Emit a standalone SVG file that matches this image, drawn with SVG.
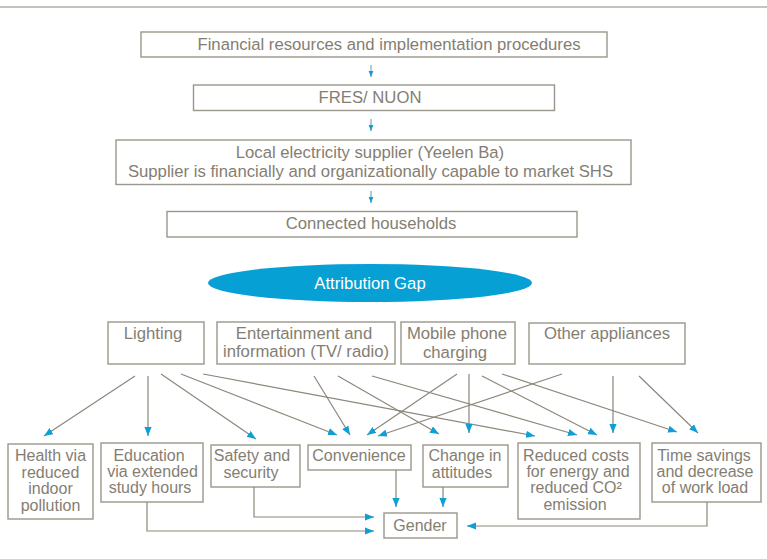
<svg xmlns="http://www.w3.org/2000/svg" width="767" height="559" viewBox="0 0 767 559">
<defs>
<style>
.box{fill:#fff;stroke:#9b968b;stroke-width:1.4}
.t{font-family:"Liberation Sans",Arial,sans-serif;fill:#847e72;text-anchor:middle}
.t1{font-size:16.7px}
.t2{font-size:16px}
.w{fill:#fff}
.c{fill:none;stroke:#8c877b;stroke-width:1.2}
.s{fill:none;stroke:#7fa6bd;stroke-width:1.2}
</style>
<marker id="ah" viewBox="0 0 10 8" refX="10" refY="4" markerWidth="9" markerHeight="7.4" markerUnits="userSpaceOnUse" orient="auto">
<path d="M0,0 L10,4 L0,8 z" fill="#0c9fd8"/>
</marker>
<marker id="ahs" viewBox="0 0 10 8" refX="10" refY="4" markerWidth="6.5" markerHeight="5.5" markerUnits="userSpaceOnUse" orient="auto">
<path d="M0,0 L10,4 L0,8 z" fill="#0c9fd8"/>
</marker>
</defs>
<rect width="767" height="559" fill="#fff"/>
<line x1="0" y1="7" x2="767" y2="7" stroke="#b3afa7" stroke-width="1.5"/>

<g id="n-financial"><rect class="box" x="141" y="32" width="466" height="25"/><text class="t t1" x="389" y="50">Financial resources and implementation procedures</text></g>
<g id="n-fres"><rect class="box" x="193.5" y="85" width="361" height="25.5"/><text class="t t1" x="370" y="103">FRES/ NUON</text></g>
<g id="n-local"><rect class="box" x="116" y="140" width="515" height="44.5"/><text class="t t1" x="370" y="158">Local electricity supplier (Yeelen Ba)</text><text class="t t1" x="370.5" y="177">Supplier is financially and organizationally capable to market SHS</text></g>
<g id="n-connected"><rect class="box" x="167" y="211.5" width="410" height="25.5"/><text class="t t1" x="371" y="229">Connected households</text></g>
<g id="n-gap"><ellipse cx="370" cy="283" rx="162" ry="19" fill="#06a0d5"/><text class="t t1 w" x="370" y="289">Attribution Gap</text></g>

<g id="n-lighting"><rect class="box" x="108" y="322" width="96" height="42"/><text class="t t1" x="153" y="339">Lighting</text></g>
<g id="n-entertainment"><rect class="box" x="217" y="322" width="178" height="42"/><text class="t t1" x="304" y="338.5">Entertainment and</text><text class="t t1" x="306" y="357">information (TV/ radio)</text></g>
<g id="n-mobile"><rect class="box" x="401" y="322" width="114" height="42"/><text class="t t1" x="457" y="338.5">Mobile phone</text><text class="t t1" x="455" y="357.5">charging</text></g>
<g id="n-other"><rect class="box" x="529" y="323" width="156" height="41"/><text class="t t1" x="607" y="339">Other appliances</text></g>

<g id="n-health"><rect class="box" x="8" y="444" width="85" height="75"/><text class="t t2" x="50.5" y="461">Health via</text><text class="t t2" x="50.5" y="478">reduced</text><text class="t t2" x="50.5" y="494">indoor</text><text class="t t2" x="50.5" y="511">pollution</text></g>
<g id="n-education"><rect class="box" x="101" y="443" width="102" height="59"/><text class="t t2" x="149" y="461">Education</text><text class="t t2" x="152.5" y="477">via extended</text><text class="t t2" x="150" y="493">study hours</text></g>
<g id="n-safety"><rect class="box" x="211" y="445" width="89" height="42"/><text class="t t2" x="252" y="461">Safety and</text><text class="t t2" x="251" y="478">security</text></g>
<g id="n-convenience"><rect class="box" x="308" y="445" width="103" height="25"/><text class="t t2" x="359" y="461">Convenience</text></g>
<g id="n-change"><rect class="box" x="423" y="445" width="85" height="42"/><text class="t t2" x="465" y="461">Change in</text><text class="t t2" x="462" y="478">attitudes</text></g>
<g id="n-reduced"><rect class="box" x="518" y="443" width="122" height="76"/><text class="t t2" x="576" y="461">Reduced costs</text><text class="t t2" x="578" y="477">for energy and</text><text class="t t2" x="576" y="493">reduced CO²</text><text class="t t2" x="575" y="510">emission</text></g>
<g id="n-time"><rect class="box" x="652" y="443" width="109" height="59"/><text class="t t2" x="704" y="461">Time savings</text><text class="t t2" x="705" y="477">and decrease</text><text class="t t2" x="705" y="493">of work load</text></g>
<g id="n-gender"><rect class="box" x="384" y="513" width="73" height="25"/><text class="t t2" x="420" y="531">Gender</text></g>

<g id="connectors">
<line class="s" x1="371" y1="65" x2="371" y2="77" marker-end="url(#ahs)"/>
<line class="s" x1="371" y1="119" x2="371" y2="131" marker-end="url(#ahs)"/>
<line class="s" x1="371" y1="191" x2="371" y2="203" marker-end="url(#ahs)"/>

<line class="c" x1="135" y1="376" x2="44" y2="436" marker-end="url(#ah)"/>
<line class="c" x1="148" y1="376" x2="148" y2="436" marker-end="url(#ah)"/>
<line class="c" x1="161" y1="374" x2="256" y2="439" marker-end="url(#ah)"/>
<line class="c" x1="181" y1="374" x2="337" y2="435" marker-end="url(#ah)"/>
<line class="c" x1="203" y1="374" x2="535" y2="436" marker-end="url(#ah)"/>

<line class="c" x1="314" y1="376" x2="350" y2="435" marker-end="url(#ah)"/>
<line class="c" x1="338" y1="376" x2="439" y2="434" marker-end="url(#ah)"/>
<line class="c" x1="372" y1="376" x2="577" y2="435" marker-end="url(#ah)"/>

<line class="c" x1="457" y1="374" x2="367" y2="435" marker-end="url(#ah)"/>
<line class="c" x1="469" y1="374" x2="469" y2="433" marker-end="url(#ah)"/>
<line class="c" x1="482" y1="376" x2="597" y2="435" marker-end="url(#ah)"/>
<line class="c" x1="502" y1="374" x2="677" y2="432" marker-end="url(#ah)"/>

<line class="c" x1="562" y1="374" x2="378" y2="436" marker-end="url(#ah)"/>
<line class="c" x1="613" y1="376" x2="613" y2="433" marker-end="url(#ah)"/>
<line class="c" x1="639" y1="376" x2="698" y2="433" marker-end="url(#ah)"/>

<line class="c" x1="396" y1="470" x2="396" y2="507" marker-end="url(#ah)"/>
<line class="c" x1="443" y1="487" x2="443" y2="507" marker-end="url(#ah)"/>
<path class="c" d="M254,487 V517 H374" marker-end="url(#ah)"/>
<path class="c" d="M147,502 V531 H374" marker-end="url(#ah)"/>
<path class="c" d="M707,502 V526 H467" marker-end="url(#ah)"/>
</g>
</svg>
